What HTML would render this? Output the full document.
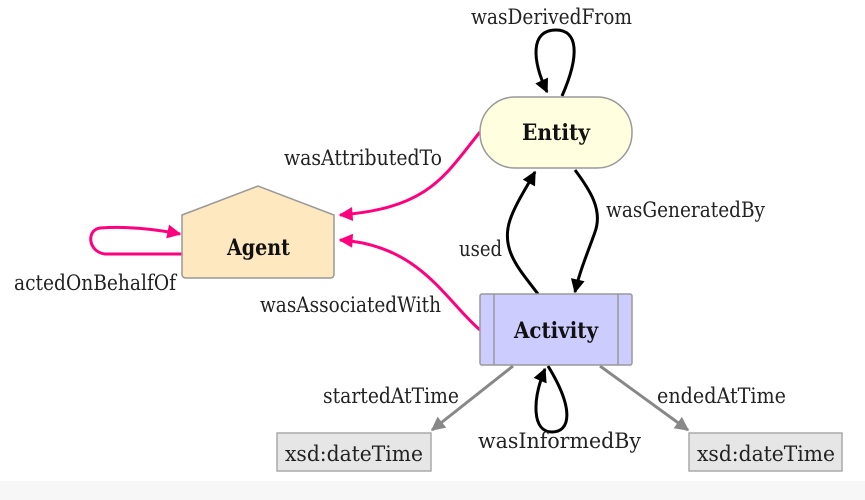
<!DOCTYPE html>
<html><head><meta charset="utf-8"><style>
html,body{margin:0;padding:0;background:#fff}
svg{display:block}
text{font-family:"DejaVu Serif","Liberation Serif",serif}
</style></head><body>
<svg width="865" height="500" viewBox="0 0 865 500" xmlns="http://www.w3.org/2000/svg">
<defs>
<marker id="ap" viewBox="0 0 10 10" refX="9" refY="5" markerWidth="16" markerHeight="14" orient="auto" markerUnits="userSpaceOnUse"><path d="M0,0 L10,5 L0,10 z" fill="#ff007f"/></marker>
<marker id="ak" viewBox="0 0 10 10" refX="9" refY="5" markerWidth="16" markerHeight="14" orient="auto" markerUnits="userSpaceOnUse"><path d="M0,0 L10,5 L0,10 z" fill="#000"/></marker>
<marker id="ag" viewBox="0 0 10 10" refX="9" refY="5" markerWidth="16" markerHeight="14" orient="auto" markerUnits="userSpaceOnUse"><path d="M0,0 L10,5 L0,10 z" fill="#888"/></marker>
</defs>
<rect x="0" y="481" width="865" height="19" fill="#f7f7f7"/>

<g fill="none" stroke-width="3">
<path d="M562 96 C580 55 578 30 556 30 C530 30 532 60 547 92" stroke="#000" marker-end="url(#ak)"/>
<path d="M480 132 C445 175 430 208 340 215" stroke="#ff007f" marker-end="url(#ap)"/>
<path d="M480 330 C445 300 420 245 340 240" stroke="#ff007f" marker-end="url(#ap)"/>
<path d="M182 254 L105 254 C88 252 86 230 100 228 C130 226 160 230 180 234" stroke="#ff007f" marker-end="url(#ap)"/>
<path d="M538 294 C520 270 500 250 510 220 C515 205 525 190 535 172" stroke="#000" marker-end="url(#ak)"/>
<path d="M575 170 C590 190 603 210 595 232 C588 252 580 270 575 292" stroke="#000" marker-end="url(#ak)"/>
<path d="M548 366 C575 410 570 432 552 432 C532 432 532 400 545 369" stroke="#000" marker-end="url(#ak)"/>
<path d="M513 366 L432 430" stroke="#888" marker-end="url(#ag)"/>
<path d="M600 366 L688 430" stroke="#888" marker-end="url(#ag)"/>
</g>

<rect x="480" y="97" width="152" height="71" rx="35" fill="#ffffe0" stroke="#999" stroke-width="1.5"/>
<path d="M182 215 L258 186 L334 215 L334 274 Q334 278 330 278 L186 278 Q182 278 182 274 Z" fill="#fde8c0" stroke="#999" stroke-width="1.5"/>
<rect x="480" y="294" width="152" height="71" rx="2" fill="#ccccff" stroke="#999" stroke-width="1.5"/>
<line x1="494" y1="294" x2="494" y2="365" stroke="#999" stroke-width="1.5"/>
<line x1="618" y1="294" x2="618" y2="365" stroke="#999" stroke-width="1.5"/>
<rect x="277" y="433" width="154" height="38" fill="#e6e6e6" stroke="#aaa" stroke-width="1.5"/>
<rect x="689" y="433" width="153" height="38" fill="#e6e6e6" stroke="#aaa" stroke-width="1.5"/>

<g font-weight="bold" font-size="22" fill="#111">
<text x="522" y="140" textLength="68" lengthAdjust="spacingAndGlyphs">Entity</text>
<text x="227" y="255" textLength="63" lengthAdjust="spacingAndGlyphs">Agent</text>
<text x="514" y="338" textLength="84" lengthAdjust="spacingAndGlyphs">Activity</text>
</g>
<g font-size="21" fill="#222">
<text x="285" y="461" textLength="138" lengthAdjust="spacingAndGlyphs">xsd:dateTime</text>
<text x="697" y="461" textLength="138" lengthAdjust="spacingAndGlyphs">xsd:dateTime</text>
<text x="471" y="24" textLength="161" lengthAdjust="spacingAndGlyphs">wasDerivedFrom</text>
<text x="284" y="165" textLength="158" lengthAdjust="spacingAndGlyphs">wasAttributedTo</text>
<text x="606" y="217" textLength="159" lengthAdjust="spacingAndGlyphs">wasGeneratedBy</text>
<text x="459" y="256" textLength="43" lengthAdjust="spacingAndGlyphs">used</text>
<text x="260" y="312" textLength="181" lengthAdjust="spacingAndGlyphs">wasAssociatedWith</text>
<text x="14" y="290" textLength="162" lengthAdjust="spacingAndGlyphs">actedOnBehalfOf</text>
<text x="323" y="403" textLength="136" lengthAdjust="spacingAndGlyphs">startedAtTime</text>
<text x="657" y="403" textLength="129" lengthAdjust="spacingAndGlyphs">endedAtTime</text>
<text x="478" y="448" textLength="163" lengthAdjust="spacingAndGlyphs">wasInformedBy</text>
</g>
</svg>
</body></html>
